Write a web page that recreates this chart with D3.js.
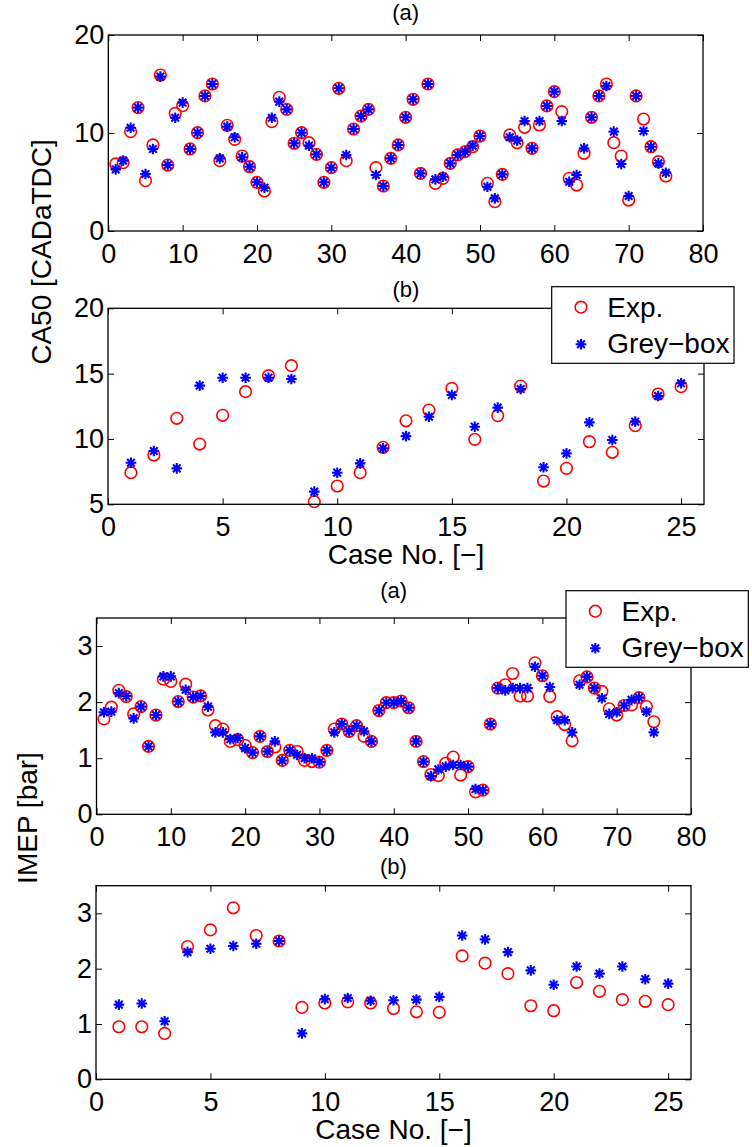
<!DOCTYPE html>
<html><head><meta charset="utf-8">
<script src="https://cdnjs.cloudflare.com/ajax/libs/d3/7.8.5/d3.min.js"></script>
<style>
html,body{margin:0;padding:0;background:#fff;}
svg{display:block;}
text{font-family:"Liberation Sans",Arial,Helvetica,sans-serif;fill:#000;}
</style></head>
<body>
<svg id="chart" width="752" height="1147"></svg>
<script>
// ---------- data ----------
const ca50ExpA = [6.84,6.97,10.14,12.59,5.14,8.78,15.92,6.73,12.0,12.79,8.37,10.03,13.78,15.0,7.18,10.78,9.35,7.65,6.56,4.97,4.08,11.16,13.64,12.41,8.95,10.03,9.01,7.82,4.97,6.46,14.56,7.18,10.41,11.73,12.41,6.46,4.59,7.41,8.78,11.6,13.44,5.88,15.0,4.86,5.37,6.9,7.76,8.1,8.6,9.69,4.86,2.99,5.78,9.8,9.0,10.58,8.44,10.82,12.76,14.22,12.18,5.37,4.69,7.93,11.6,13.78,15.0,9.01,7.65,3.16,13.78,11.43,8.6,7.07,5.61];
const ca50GreyA = [6.29,7.18,10.54,12.59,5.82,8.37,15.75,6.73,11.56,13.1,8.37,10.03,13.78,15.0,7.41,10.65,9.56,7.52,6.56,4.97,4.42,11.56,13.2,12.41,8.95,10.03,8.71,7.82,4.97,6.46,14.56,7.76,10.41,11.73,12.41,5.71,4.59,7.41,8.78,11.6,13.44,5.88,15.0,5.27,5.54,6.9,7.76,8.1,8.71,9.69,4.52,3.33,5.78,9.56,9.22,11.22,8.44,11.22,12.76,14.22,11.22,5.03,5.71,8.44,11.6,13.78,14.8,10.14,6.84,3.57,13.78,10.2,8.6,6.9,5.95];
const ca50ExpB = [7.42,8.77,11.58,9.61,11.81,13.62,14.84,15.61,5.2,6.4,7.42,9.36,11.39,12.21,13.87,9.97,11.78,14.05,6.78,7.75,9.79,8.98,11.02,13.44,14.0];
const ca50GreyB = [8.18,9.08,7.75,14.08,14.69,14.69,14.69,14.59,5.97,7.42,8.13,9.28,10.22,11.7,13.36,10.94,12.4,13.82,7.83,8.9,11.27,9.92,11.33,13.29,14.26];
const imepExpA = [1.70,1.91,2.21,2.10,1.79,1.92,1.21,1.77,2.41,2.37,2.01,2.32,2.09,2.11,1.86,1.58,1.52,1.30,1.33,1.23,1.10,1.39,1.12,1.20,0.96,1.14,1.12,0.96,0.94,0.93,1.14,1.52,1.61,1.48,1.58,1.39,1.30,1.85,1.99,1.99,2.02,1.90,1.30,0.94,0.71,0.69,0.91,1.02,0.70,0.85,0.40,0.43,1.61,2.25,2.31,2.51,2.11,2.11,2.70,2.47,2.10,1.74,1.60,1.31,2.38,2.45,2.25,2.19,1.88,1.77,1.94,1.95,2.08,1.92,1.65];
const imepGreyA = [1.82,1.83,2.16,2.11,1.71,1.92,1.21,1.77,2.46,2.46,2.01,2.22,2.09,2.11,1.92,1.46,1.46,1.34,1.36,1.18,1.10,1.39,1.12,1.30,0.96,1.14,1.06,1.0,1.0,0.93,1.14,1.46,1.61,1.48,1.58,1.48,1.30,1.85,1.99,1.99,2.02,1.90,1.30,0.94,0.68,0.80,0.85,0.88,0.88,0.85,0.45,0.43,1.61,2.25,2.21,2.25,2.25,2.25,2.63,2.47,2.27,1.68,1.68,1.46,2.31,2.45,2.25,2.07,1.79,1.82,1.94,2.04,2.08,1.83,1.46];
const imepExpB = [0.95,0.95,0.83,2.40,2.70,3.10,2.60,2.50,1.30,1.38,1.40,1.38,1.28,1.22,1.21,2.23,2.10,1.91,1.33,1.24,1.75,1.59,1.44,1.41,1.35];
const imepGreyB = [1.35,1.37,1.05,2.30,2.36,2.41,2.45,2.50,0.83,1.45,1.47,1.42,1.43,1.44,1.49,2.60,2.53,2.30,1.97,1.71,2.04,1.91,2.04,1.81,1.73];

const xTicksA = [0,10,20,30,40,50,60,70,80];
const xTicksB = [0,5,10,15,20,25];
const ca50TicksA = [0,10,20];
const ca50TicksB = [5,10,15,20];
const imepTicks = [0,1,2,3];
const seriesNames = ["Exp.","Grey\u2212box"];
const panelTitles = ["(a)","(b)"];
const xLabel = "Case No. [\u2212]";
const yLabels = ["CA50 [CADaTDC]","IMEP [bar]"];

// ---------- layout ----------
const svg = d3.select("#chart");
const FONT = 27;
const RED = "#ff0000", BLUE = "#0000ff";

const panels = [
  {l:108.3,r:703,t:35,b:231, xd:[0,80], yd:[0,20], xt:xTicksA, yt:ca50TicksA, exp:ca50ExpA, grey:ca50GreyA, title:panelTitles[0], ty:20},
  {l:108,r:704,t:308.3,b:504.3, xd:[0,26], yd:[5,20], xt:xTicksB, yt:ca50TicksB, exp:ca50ExpB, grey:ca50GreyB, title:panelTitles[1], ty:297, xlab:true, legend:{x:551.7,y:286.7}},
  {l:96.5,r:691,t:618,b:814.3, xd:[0,80], yd:[0,3.5], xt:xTicksA, yt:imepTicks, exp:imepExpA, grey:imepGreyA, title:panelTitles[0], ty:598, legend:{x:566,y:590.7}},
  {l:96,r:691,t:885.7,b:1079.3, xd:[0,26], yd:[0,3.5], xt:xTicksB, yt:imepTicks, exp:imepExpB, grey:imepGreyB, title:panelTitles[1], ty:874, xlab:true}
];

function asterisk(g, s){
  const a = s*0.72;
  g.append("path")
   .attr("d",`M${-s},0L${s},0M0,${-s}L0,${s}M${-a},${-a}L${a},${a}M${-a},${a}L${a},${-a}`)
   .attr("stroke",BLUE).attr("stroke-width",2.1).attr("fill","none");
}

panels.forEach(p=>{
  const x = d3.scaleLinear().domain(p.xd).range([p.l,p.r]);
  const y = d3.scaleLinear().domain(p.yd).range([p.b,p.t]);
  const g = svg.append("g");

  // markers
  const cases = p.exp.map((_,i)=>i+1);
  g.append("g").selectAll("circle").data(cases).join("circle")
    .attr("cx",d=>x(d)).attr("cy",d=>y(p.exp[d-1])).attr("r",5.8)
    .attr("fill","none").attr("stroke",RED).attr("stroke-width",1.6);
  g.append("g").selectAll("g").data(cases).join("g")
    .attr("transform",d=>`translate(${x(d)},${y(p.grey[d-1])})`)
    .each(function(){ asterisk(d3.select(this),5.3); });

  // axes
  const ax = (axis)=>axis.tickSizeOuter(0);
  const bottom = g.append("g").attr("transform",`translate(0,${p.b})`)
    .call(ax(d3.axisBottom(x).tickValues(p.xt).tickSizeInner(-6).tickPadding(12.5).tickFormat(d3.format("d"))));
  const top = g.append("g").attr("transform",`translate(0,${p.t})`)
    .call(ax(d3.axisTop(x).tickValues(p.xt).tickSizeInner(-6).tickFormat("")));
  const left = g.append("g").attr("transform",`translate(${p.l},0)`)
    .call(ax(d3.axisLeft(y).tickValues(p.yt).tickSizeInner(-6).tickPadding(4).tickFormat(d3.format("d"))));
  const right = g.append("g").attr("transform",`translate(${p.r},0)`)
    .call(ax(d3.axisRight(y).tickValues(p.yt).tickSizeInner(-6).tickFormat("")));
  [bottom,top,left,right].forEach(a=>{
    a.select(".domain").remove();
    a.selectAll(".tick line").attr("stroke","#000").attr("stroke-width",1);
    a.selectAll(".tick text").attr("font-size",FONT).attr("font-family",null).style("fill","#000");
  });
  g.append("rect").attr("x",p.l).attr("y",p.t).attr("width",p.r-p.l).attr("height",p.b-p.t)
    .attr("fill","none").attr("stroke","#000").attr("stroke-width",1.3);

  // title
  g.append("text").attr("x",(p.l+p.r)/2).attr("y",p.ty).attr("text-anchor","middle")
    .attr("font-size",22).text(p.title);
  if(p.xlab){
    g.append("text").attr("x",(p.l+p.r)/2).attr("y",p.b+60).attr("text-anchor","middle")
      .attr("font-size",FONT+1).text(xLabel);
  }
  if(p.legend){
    const L = svg.append("g").attr("transform",`translate(${p.legend.x},${p.legend.y})`);
    L.append("rect").attr("width",182.3).attr("height",76.6).attr("fill","#fff")
      .attr("stroke","#000").attr("stroke-width",1.2);
    L.append("circle").attr("cx",29.3).attr("cy",20.5).attr("r",5.8)
      .attr("fill","none").attr("stroke",RED).attr("stroke-width",1.6);
    asterisk(L.append("g").attr("transform","translate(29.3,57.5)"),5.3);
    L.append("text").attr("x",55.6).attr("y",30.5).attr("font-size",FONT+1).text(seriesNames[0]);
    L.append("text").attr("x",55.6).attr("y",66.5).attr("font-size",FONT+1).text(seriesNames[1]);
  }
});

// y labels
svg.append("text").attr("transform","translate(51,252) rotate(-90)").attr("text-anchor","middle")
  .attr("font-size",FONT+1).text(yLabels[0]);
svg.append("text").attr("transform","translate(37,818) rotate(-90)").attr("text-anchor","middle")
  .attr("font-size",FONT+1).text(yLabels[1]);
</script>
</body></html>
